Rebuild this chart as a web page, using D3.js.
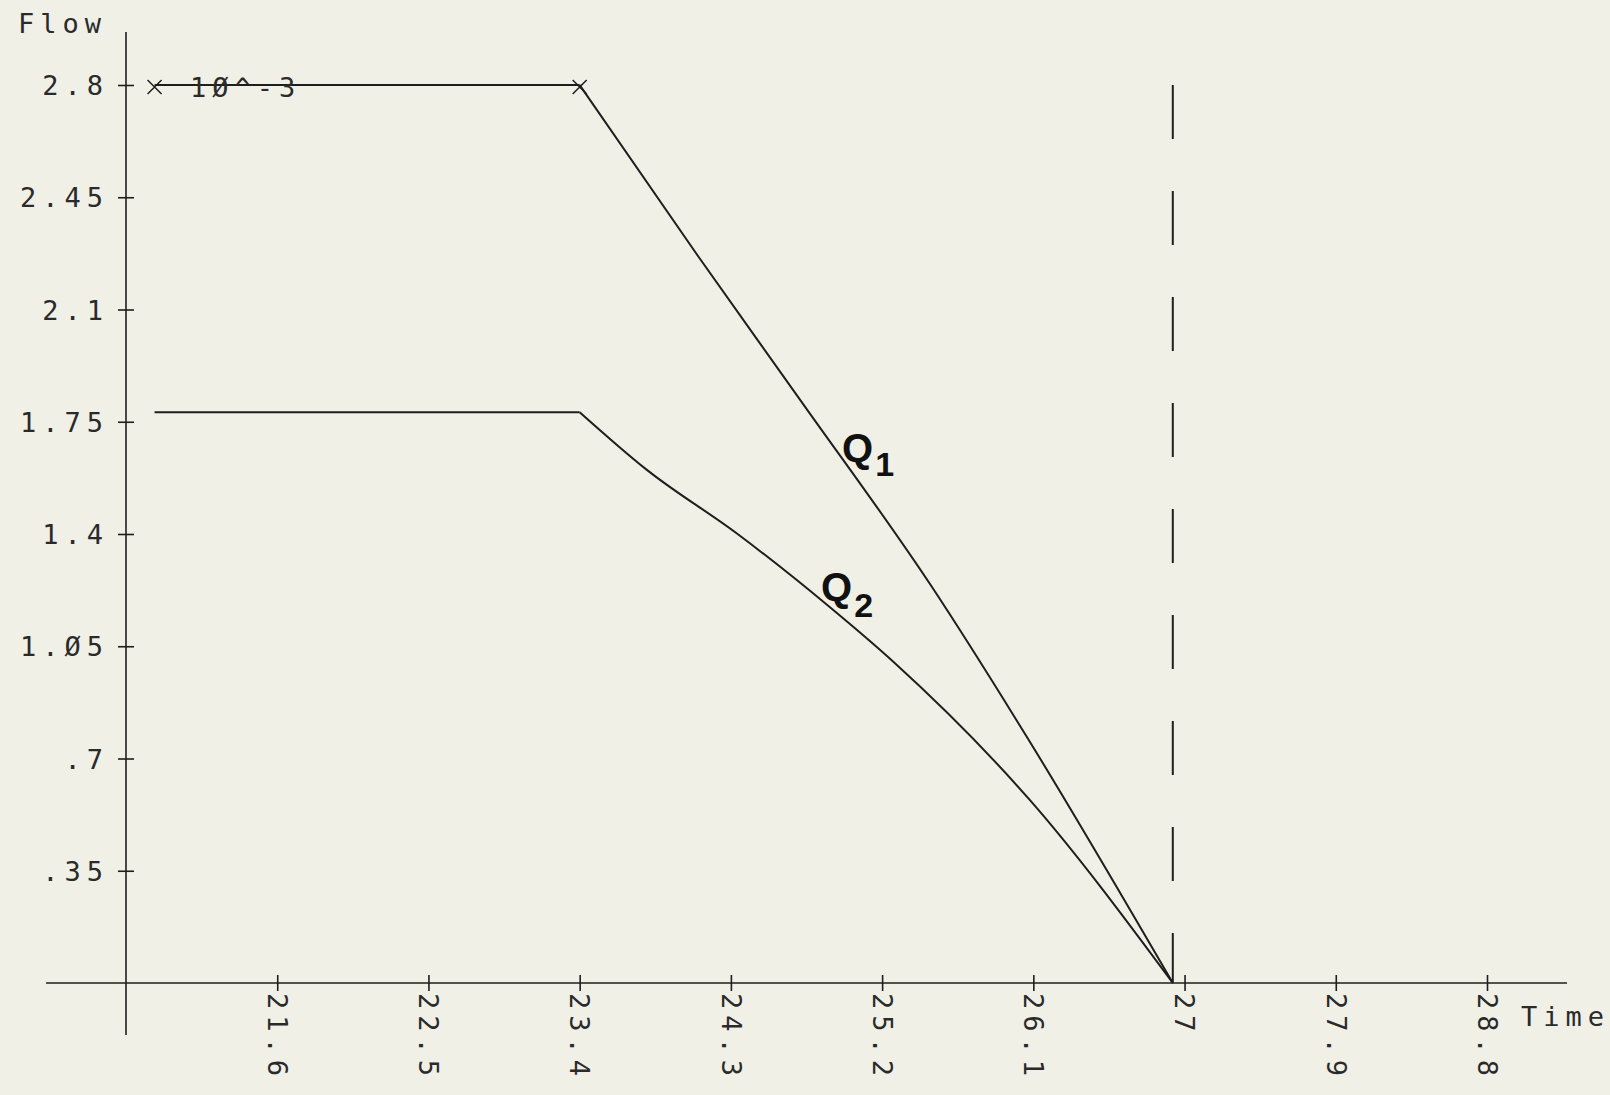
<!DOCTYPE html>
<html>
<head>
<meta charset="utf-8">
<script src="https://cdn.jsdelivr.net/npm/d3@7"></script>
<style>
  body { margin: 0; background: #f0f0e7; }
  svg { display: block; }
  text { font-family: "DejaVu Sans Mono", monospace; font-size: 27px; fill: #2a2a2a; letter-spacing: 6px; }
  .q { font-family: "Liberation Sans", Arial, sans-serif; font-weight: bold; font-size: 40px; fill: #111; letter-spacing: 0; }
</style>
</head>
<body>
<svg width="1610" height="1095"></svg>
<script>
// tick values and labels as printed on the plot
const xTicks = [21.6, 22.5, 23.4, 24.3, 25.2, 26.1, 27, 27.9, 28.8];
const xTickLabels = ['21.6', '22.5', '23.4', '24.3', '25.2', '26.1', '27', '27.9', '28.8'];
const yTicks = [0.35, 0.7, 1.05, 1.4, 1.75, 2.1, 2.45, 2.8];
const yTickLabels = ['.35', '.7', '1.Ø5', '1.4', '1.75', '2.1', '2.45', '2.8'];

// Q1 flow (x 10^-3) over time
const q1Time = [20.87, 23.4, 24.10, 24.71, 25.49, 26.07, 26.93];
const q1Flow = [2.8, 2.8, 2.27, 1.82, 1.24, 0.76, 0];

// Q2 flow (x 10^-3) over time
const q2Time = [20.87, 23.4, 23.80, 24.34, 24.87, 25.27, 26.08, 26.93];
const q2Flow = [1.78, 1.78, 1.60, 1.40, 1.18, 1.00, 0.57, 0];

// index where the flat part ends and the fall starts
const breakIndex = 1;

// cross markers on Q1
const markTime = [20.87, 23.4];
const markFlow = [2.8, 2.8];

// time where both flows reach zero (dashed line)
const cutoffTime = 26.93;

const svg = d3.select('svg');

const xScale = d3.scaleLinear().domain([20.7, 28.8]).range([126, 1487]);
const yScale = d3.scaleLinear().domain([0, 2.8]).range([983, 85]);

const ink = '#1e1e1e';

// axis lines (plotter style, running past the data range)
svg.append('line')
  .attr('x1', 46).attr('x2', 1567)
  .attr('y1', yScale(0)).attr('y2', yScale(0))
  .attr('stroke', ink).attr('stroke-width', 1.6);
svg.append('line')
  .attr('x1', xScale(20.7)).attr('x2', xScale(20.7))
  .attr('y1', 32).attr('y2', 1035)
  .attr('stroke', ink).attr('stroke-width', 1.6);

const xAxis = d3.axisBottom(xScale)
  .tickValues(xTicks)
  .tickFormat((d, i) => xTickLabels[i])
  .tickSize(8);

const xAxisG = svg.append('g')
  .attr('transform', `translate(0, ${yScale(0)})`)
  .attr('color', ink)
  .call(xAxis);
xAxisG.select('.domain').remove();
xAxisG.selectAll('.tick line').attr('y1', -8).attr('y2', 8).attr('stroke-width', 1.6);
xAxisG.selectAll('.tick text')
  .attr('transform', 'rotate(90)')
  .attr('x', 10)
  .attr('y', 0)
  .attr('dy', '0.36em')
  .attr('text-anchor', 'start');

const yAxis = d3.axisLeft(yScale)
  .tickValues(yTicks)
  .tickFormat((d, i) => yTickLabels[i])
  .tickSize(8);

const yAxisG = svg.append('g')
  .attr('transform', `translate(${xScale(20.7)}, 0)`)
  .attr('color', ink)
  .call(yAxis);
yAxisG.select('.domain').remove();
yAxisG.selectAll('.tick line').attr('x1', 8).attr('x2', -8).attr('stroke-width', 1.6);
yAxisG.selectAll('.tick text')
  .attr('x', -17)
  .attr('dy', '0.36em')
  .attr('text-anchor', 'end');

// axis titles
svg.append('text').attr('x', 18).attr('y', 33).text('Flow');
svg.append('text').attr('x', 1521).attr('y', 1026).text('Time');

// data lines: straight flat part, smooth falling part
const flatLine = d3.line()
  .x(d => xScale(d[0]))
  .y(d => yScale(d[1]));
const fallLine = d3.line()
  .x(d => xScale(d[0]))
  .y(d => yScale(d[1]))
  .curve(d3.curveMonotoneX);

[[q1Time, q1Flow], [q2Time, q2Flow]].forEach(([t, f]) => {
  const pts = d3.zip(t, f);
  svg.append('path')
    .datum(pts.slice(0, breakIndex + 1))
    .attr('d', flatLine)
    .attr('fill', 'none')
    .attr('stroke', ink)
    .attr('stroke-width', 2);
  svg.append('path')
    .datum(pts.slice(breakIndex))
    .attr('d', fallLine)
    .attr('fill', 'none')
    .attr('stroke', ink)
    .attr('stroke-width', 2);
});

// dashed cutoff line
svg.append('line')
  .attr('x1', xScale(cutoffTime)).attr('x2', xScale(cutoffTime))
  .attr('y1', yScale(2.8)).attr('y2', yScale(0))
  .attr('stroke', ink)
  .attr('stroke-width', 2)
  .attr('stroke-dasharray', '54 52');

// cross markers
svg.selectAll('.mark').data(d3.zip(markTime, markFlow))
  .enter().append('path')
    .attr('class', 'mark')
    .attr('transform', d => `translate(${xScale(d[0])}, ${yScale(d[1]) + 2})`)
    .attr('d', 'M-7,-7L7,7M-7,7L7,-7')
    .attr('stroke', ink)
    .attr('stroke-width', 1.5);

// scale note
svg.append('text').attr('x', 190).attr('y', 97).text('1Ø^-3');

// series labels
const q1 = svg.append('text').attr('class', 'q').attr('x', 842).attr('y', 462);
q1.append('tspan').text('Q');
q1.append('tspan').attr('dx', 2).attr('dy', 14).attr('font-size', 34).text('1');

const q2 = svg.append('text').attr('class', 'q').attr('x', 821).attr('y', 601);
q2.append('tspan').text('Q');
q2.append('tspan').attr('dx', 2).attr('dy', 16).attr('font-size', 34).text('2');
</script>
</body>
</html>
